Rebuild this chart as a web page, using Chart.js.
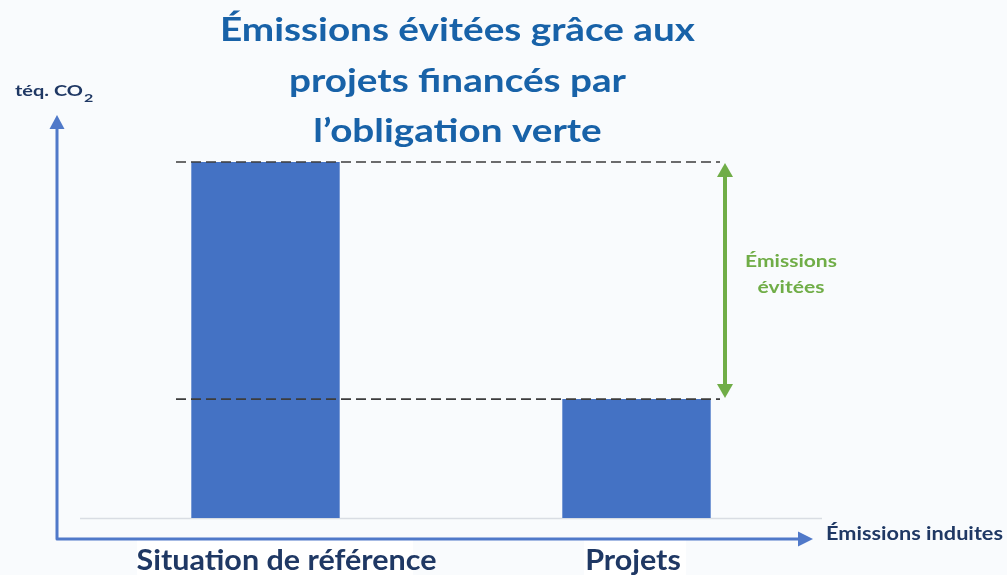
<!DOCTYPE html>
<html>
<head>
<meta charset="utf-8">
<script src="https://cdn.jsdelivr.net/npm/chart.js@4.4.1/dist/chart.umd.min.js"></script>
<style>
  html, body { margin: 0; padding: 0; background: #f9fbfd; }
  #wrap { width: 1007px; height: 575px; }
</style>
</head>
<body>
<div id="wrap"><canvas id="c" width="1007" height="575"></canvas></div>
<script>
const categories = ['Situation de référence', 'Projets'];
const emissions = [100, 33.4];
const titleLines = ['Émissions évitées grâce aux', 'projets financés par', 'l’obligation verte'];
const yAxisLabel = 'téq. CO';
const yAxisSub = '2';
const xAxisLabel = 'Émissions induites';
const gapLabel = ['Émissions', 'évitées'];

const FONT = 'Lato, "Open Sans", sans-serif';
const DARK = '#1f3864';
const AXIS = '#5079c9';
const GREEN = '#70ad47';

function tri(ctx, a, b, c, color) {
  ctx.beginPath(); ctx.moveTo(a[0], a[1]); ctx.lineTo(b[0], b[1]); ctx.lineTo(c[0], c[1]); ctx.closePath();
  ctx.fillStyle = color; ctx.fill();
}
// draw text with a horizontal stretch factor (to mimic the wider original face)
function txt(ctx, text, x, y, sx, align) {
  ctx.save(); ctx.translate(x, y); ctx.scale(sx, 1); ctx.textAlign = align; ctx.fillText(text, 0, 0); ctx.restore();
}
function stretchFor(ctx, text, target) { return target / ctx.measureText(text).width; }

const decor = {
  id: 'decor',
  beforeDraw(chart) {
    const { ctx, chartArea: ca } = chart;
    ctx.save();
    ctx.fillStyle = '#f9fbfd';
    ctx.fillRect(0, 0, chart.width, chart.height);
    // light baseline
    ctx.strokeStyle = '#d9dde3';
    ctx.lineWidth = 1.5;
    ctx.beginPath(); ctx.moveTo(ca.left, ca.bottom + 0.5); ctx.lineTo(ca.right, ca.bottom + 0.5); ctx.stroke();
    ctx.restore();
  },
  afterDatasetsDraw(chart) {
    const { ctx, chartArea: ca, scales } = chart;
    const ys = scales.y, xs = scales.x;
    ctx.save();
    const ax = ca.left - 23, ay = ca.bottom + 21;
    // category labels on white boxes
    ctx.font = 'bold 29px ' + FONT; ctx.textBaseline = 'alphabetic';
    const catSx = stretchFor(ctx, categories[0], 300);
    const offsets = [21, -3.5];
    const boxes = [[137, 413], [584, 686]];
    categories.forEach((c, i) => {
      const cx = xs.getPixelForValue(i) + offsets[i];
      ctx.fillStyle = '#ffffff';
      ctx.fillRect(boxes[i][0], ay + 1, boxes[i][1] - boxes[i][0], chart.height - ay);
      ctx.fillStyle = DARK;
      txt(ctx, c, cx, 569.5, catSx, 'center');
    });
    // axes
    ctx.strokeStyle = AXIS; ctx.lineWidth = 3; ctx.lineJoin = 'round';
    ctx.beginPath(); ctx.moveTo(ax, ca.top - 34); ctx.lineTo(ax, ay); ctx.lineTo(ca.right - 22, ay); ctx.stroke();
    tri(ctx, [ax - 7.5, ca.top - 33], [ax + 7.5, ca.top - 33], [ax, ca.top - 47], AXIS);
    tri(ctx, [ca.right - 24, ay - 7.5], [ca.right - 24, ay + 7.5], [ca.right - 9, ay], AXIS);

    const yHigh = ys.getPixelForValue(emissions[0]);
    const yLow = ys.getPixelForValue(emissions[1]);
    const dashL = ca.left + 96, dashR = ca.right - 102;
    ctx.strokeStyle = '#3c3c3c'; ctx.lineWidth = 1.6; ctx.setLineDash([10, 5]);
    [yHigh, yLow].forEach(y => {
      ctx.beginPath(); ctx.moveTo(dashL, y); ctx.lineTo(dashR, y); ctx.stroke();
    });
    ctx.setLineDash([]);
    // green double arrow
    const gx = ca.right - 97;
    ctx.strokeStyle = GREEN; ctx.lineWidth = 4;
    ctx.beginPath(); ctx.moveTo(gx, yHigh + 12); ctx.lineTo(gx, yLow - 12); ctx.stroke();
    tri(ctx, [gx - 8, yHigh + 15], [gx + 8, yHigh + 15], [gx, yHigh + 1], GREEN);
    tri(ctx, [gx - 8, yLow - 15], [gx + 8, yLow - 15], [gx, yLow - 1], GREEN);
    // green label
    ctx.fillStyle = GREEN; ctx.font = 'bold 17px ' + FONT; ctx.textBaseline = 'alphabetic';
    const gSx = stretchFor(ctx, gapLabel[0], 92);
    txt(ctx, gapLabel[0], 791, 266.5, gSx, 'center');
    txt(ctx, gapLabel[1], 791, 293, gSx, 'center');
    // title
    ctx.fillStyle = '#1862a8'; ctx.font = 'bold 32px ' + FONT;
    const tSx = stretchFor(ctx, titleLines[0], 475);
    titleLines.forEach((t, i) => txt(ctx, t, 457.5, 41 + i * 50.5, tSx, 'center'));
    // y axis label
    ctx.fillStyle = DARK;
    ctx.font = 'bold 15px ' + FONT;
    const ySx = stretchFor(ctx, yAxisLabel, 68);
    txt(ctx, yAxisLabel, 15, 96, ySx, 'left');
    ctx.font = 'bold 12px ' + FONT;
    txt(ctx, yAxisSub, 84, 101.5, ySx, 'left');
    // x axis label
    ctx.font = 'bold 18px ' + FONT;
    const xSx = stretchFor(ctx, xAxisLabel, 177);
    txt(ctx, xAxisLabel, 826, 540, xSx, 'left');
    ctx.restore();
  }
};

new Chart(document.getElementById('c'), {
  type: 'bar',
  data: {
    labels: categories,
    datasets: [{
      data: emissions,
      backgroundColor: '#4472c4',
      borderWidth: 0,
      barPercentage: 0.4,
      categoryPercentage: 1.0
    }]
  },
  options: {
    responsive: false,
    animation: false,
    layout: { padding: { left: 80, right: 185, top: 162, bottom: 57 } },
    plugins: { legend: { display: false }, tooltip: { enabled: false }, title: { display: false } },
    scales: {
      x: { display: false },
      y: { display: false, min: 0, max: 100 }
    }
  },
  plugins: [decor]
});
</script>
</body>
</html>
